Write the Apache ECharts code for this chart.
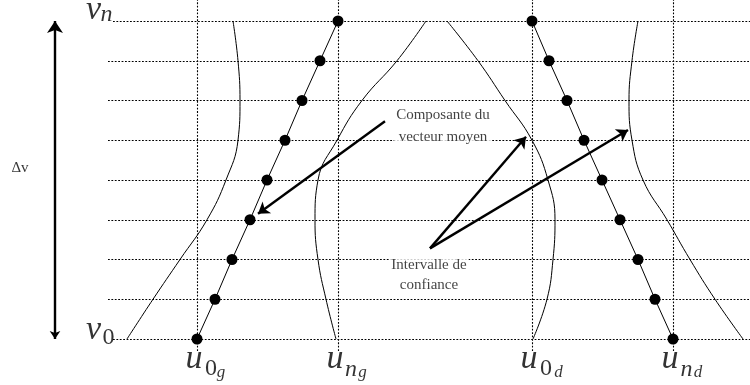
<!DOCTYPE html>
<html><head><meta charset="utf-8">
<script src="https://cdn.jsdelivr.net/npm/echarts@6/dist/echarts.min.js"></script>
<style>html,body{margin:0;padding:0;background:#fff}#c{width:750px;height:385px}</style>
</head><body><div id="c"></div>
<script>
// ---- data (x in schematic units, y = velocity level index 0..8) ----
const levels = [0, 1, 2, 3, 4, 5, 6, 7, 8];
const gridStartX = [113, 108, 108, 108, 108, 108, 108, 108, 113];
const gridEndX = 750;
const uTicks = [197, 338, 532, 673];
const uLabels = [['u', '0', 'g'], ['u', 'n', 'g'], ['u', '0', 'd'], ['u', 'n', 'd']];
const vLabels = [['v', '0'], ['v', 'n']];
const meanLeftX = [197, 215, 232, 250, 267, 285, 302, 320, 338];
const meanRightX = [673, 655, 638, 620, 602, 584, 567, 549, 532];
const ciLeftOuterX = [127, 153, 180, 207, 226, 238, 240, 238, 233];
const ciLeftInnerX = [336, 326, 318, 315, 318, 337, 362, 397, 426];
const ciRightInnerX = [533, 547, 553, 555, 548, 532, 505, 478, 447];
const ciRightOuterX = [743, 715, 690, 667, 643, 632, 629, 632, 638];
const meanArrow = [[385, 5.48], [258, 3.15]];
const ciArrowTail = [430, 2.28];
const ciArrowHeads = [[526, 5.09], [628, 5.26]];
const deltaArrowX = 55;
const textMean = ['Composante du', 'vecteur moyen'];
const textMeanPos = [443, 5.36];
const textCi = ['Intervalle de', 'confiance'];
const textCiPos = [429, 1.61];
const deltaText = 'Δv';
const deltaTextPos = [20, 4.3];

const toPts = (xs) => xs.map((x, i) => [x, levels[i]]);
const BLACK = '#000';
const SERIF = 'Liberation Serif';

function piece(anchor, text, dx, dy, size, italic) {
  return {
    value: anchor,
    label: {
      show: true, position: 'inside', offset: [dx, dy],
      formatter: text, fontSize: size, fontFamily: SERIF,
      fontStyle: italic ? 'italic' : 'normal', color: BLACK
    }
  };
}
const isDigit = (s) => /[0-9]/.test(s);

const mathItems = [];
const subDx = [14, 13, 14, 13.5];
const subSubDx = [24, 24.5, 26.5, 25];
uTicks.forEach((x, i) => {
  const [m, s, ss] = uLabels[i];
  const a = [x, levels[0]];
  mathItems.push(piece(a, m, -3, 20, 34, true));
  mathItems.push(piece(a, s, subDx[i], isDigit(s) ? 30 : 31, 24, !isDigit(s)));
  mathItems.push(piece(a, ss, subSubDx[i], 34, 17, true));
});
// v labels
mathItems.push(piece([gridStartX[1], levels[0]], vLabels[0][0], -14.5, -9, 34, true));
mathItems.push(piece([gridStartX[1], levels[0]], vLabels[0][1], 0.5, -1.5, 24, false));
mathItems.push(piece([gridStartX[1], levels[8]], vLabels[1][0], -14.5, -11, 34, true));
mathItems.push(piece([gridStartX[1], levels[8]], vLabels[1][1], -1.5, -6, 24, true));

const gridLines = levels.map((v, i) => ({ coords: [[gridStartX[i], v], [gridEndX, v]] }));
const vertLines = uTicks.map((x) => ({ coords: [[x, -0.3], [x, 8.6]] }));

function curve(name, xs) {
  return {
    type: 'line', name, data: toPts(xs), smooth: 0.45, symbol: 'none',
    lineStyle: { color: BLACK, width: 1 }, z: 3, silent: true
  };
}
function meanSeries(name, xs) {
  return {
    type: 'line', name, data: toPts(xs), symbol: 'circle', symbolSize: 11,
    showSymbol: true, itemStyle: { color: BLACK }, lineStyle: { color: BLACK, width: 1 },
    z: 5, silent: true
  };
}

const textLabelStyle = {
  show: true, position: 'inside', fontFamily: SERIF, fontSize: 15,
  color: '#111', backgroundColor: '#fff', padding: [0, 2]
};

const option = {
  animation: false,
  grid: { left: 0, right: 0, top: 21, bottom: 46 },
  xAxis: { type: 'value', min: 0, max: 750, show: false },
  yAxis: { type: 'value', min: 0, max: 8, show: false },
  series: [
    {
      type: 'lines', coordinateSystem: 'cartesian2d', data: gridLines, clip: false,
      lineStyle: { color: BLACK, width: 1.1, type: [1.8, 1.6], opacity: 1 }, z: 1, silent: true
    },
    {
      type: 'lines', coordinateSystem: 'cartesian2d', data: vertLines, clip: false,
      lineStyle: { color: BLACK, width: 1.1, type: [1.8, 1.6], opacity: 1 }, z: 1, silent: true
    },
    curve('ciLeftOuter', ciLeftOuterX),
    curve('ciLeftInner', ciLeftInnerX),
    curve('ciRightInner', ciRightInnerX),
    curve('ciRightOuter', ciRightOuterX),
    meanSeries('meanLeft', meanLeftX),
    meanSeries('meanRight', meanRightX),
    {
      type: 'lines', coordinateSystem: 'cartesian2d', clip: false,
      data: [
        { coords: meanArrow },
        { coords: [ciArrowTail, ciArrowHeads[0]] },
        { coords: [ciArrowTail, ciArrowHeads[1]] }
      ],
      symbol: ['none', 'arrow'], symbolSize: [8, 11],
      lineStyle: { color: BLACK, width: 2.4, opacity: 1 }, z: 6, silent: true
    },
    {
      type: 'lines', coordinateSystem: 'cartesian2d', clip: false,
      data: [{ coords: [[deltaArrowX, levels[0]], [deltaArrowX, levels[8]]] }],
      symbol: ['arrow', 'arrow'], symbolSize: [8, 12],
      lineStyle: { color: BLACK, width: 2.4, opacity: 1 }, z: 6, silent: true
    },
    {
      type: 'scatter', symbolSize: 0, z: 10, silent: true,
      data: [
        { value: textMeanPos, label: Object.assign({}, textLabelStyle, { formatter: textMean.join('\n'), lineHeight: 22 }) },
        { value: textCiPos, label: Object.assign({}, textLabelStyle, { formatter: textCi.join('\n'), lineHeight: 20 }) },
        { value: deltaTextPos, label: { show: true, position: 'inside', formatter: deltaText, fontFamily: SERIF, fontSize: 15, color: BLACK } }
      ]
    },
    {
      type: 'scatter', symbolSize: 0, z: 10, silent: true, data: mathItems
    }
  ]
};
const chart = echarts.init(document.getElementById('c'), null, { renderer: 'canvas' });
chart.setOption(option);
</script></body></html>
